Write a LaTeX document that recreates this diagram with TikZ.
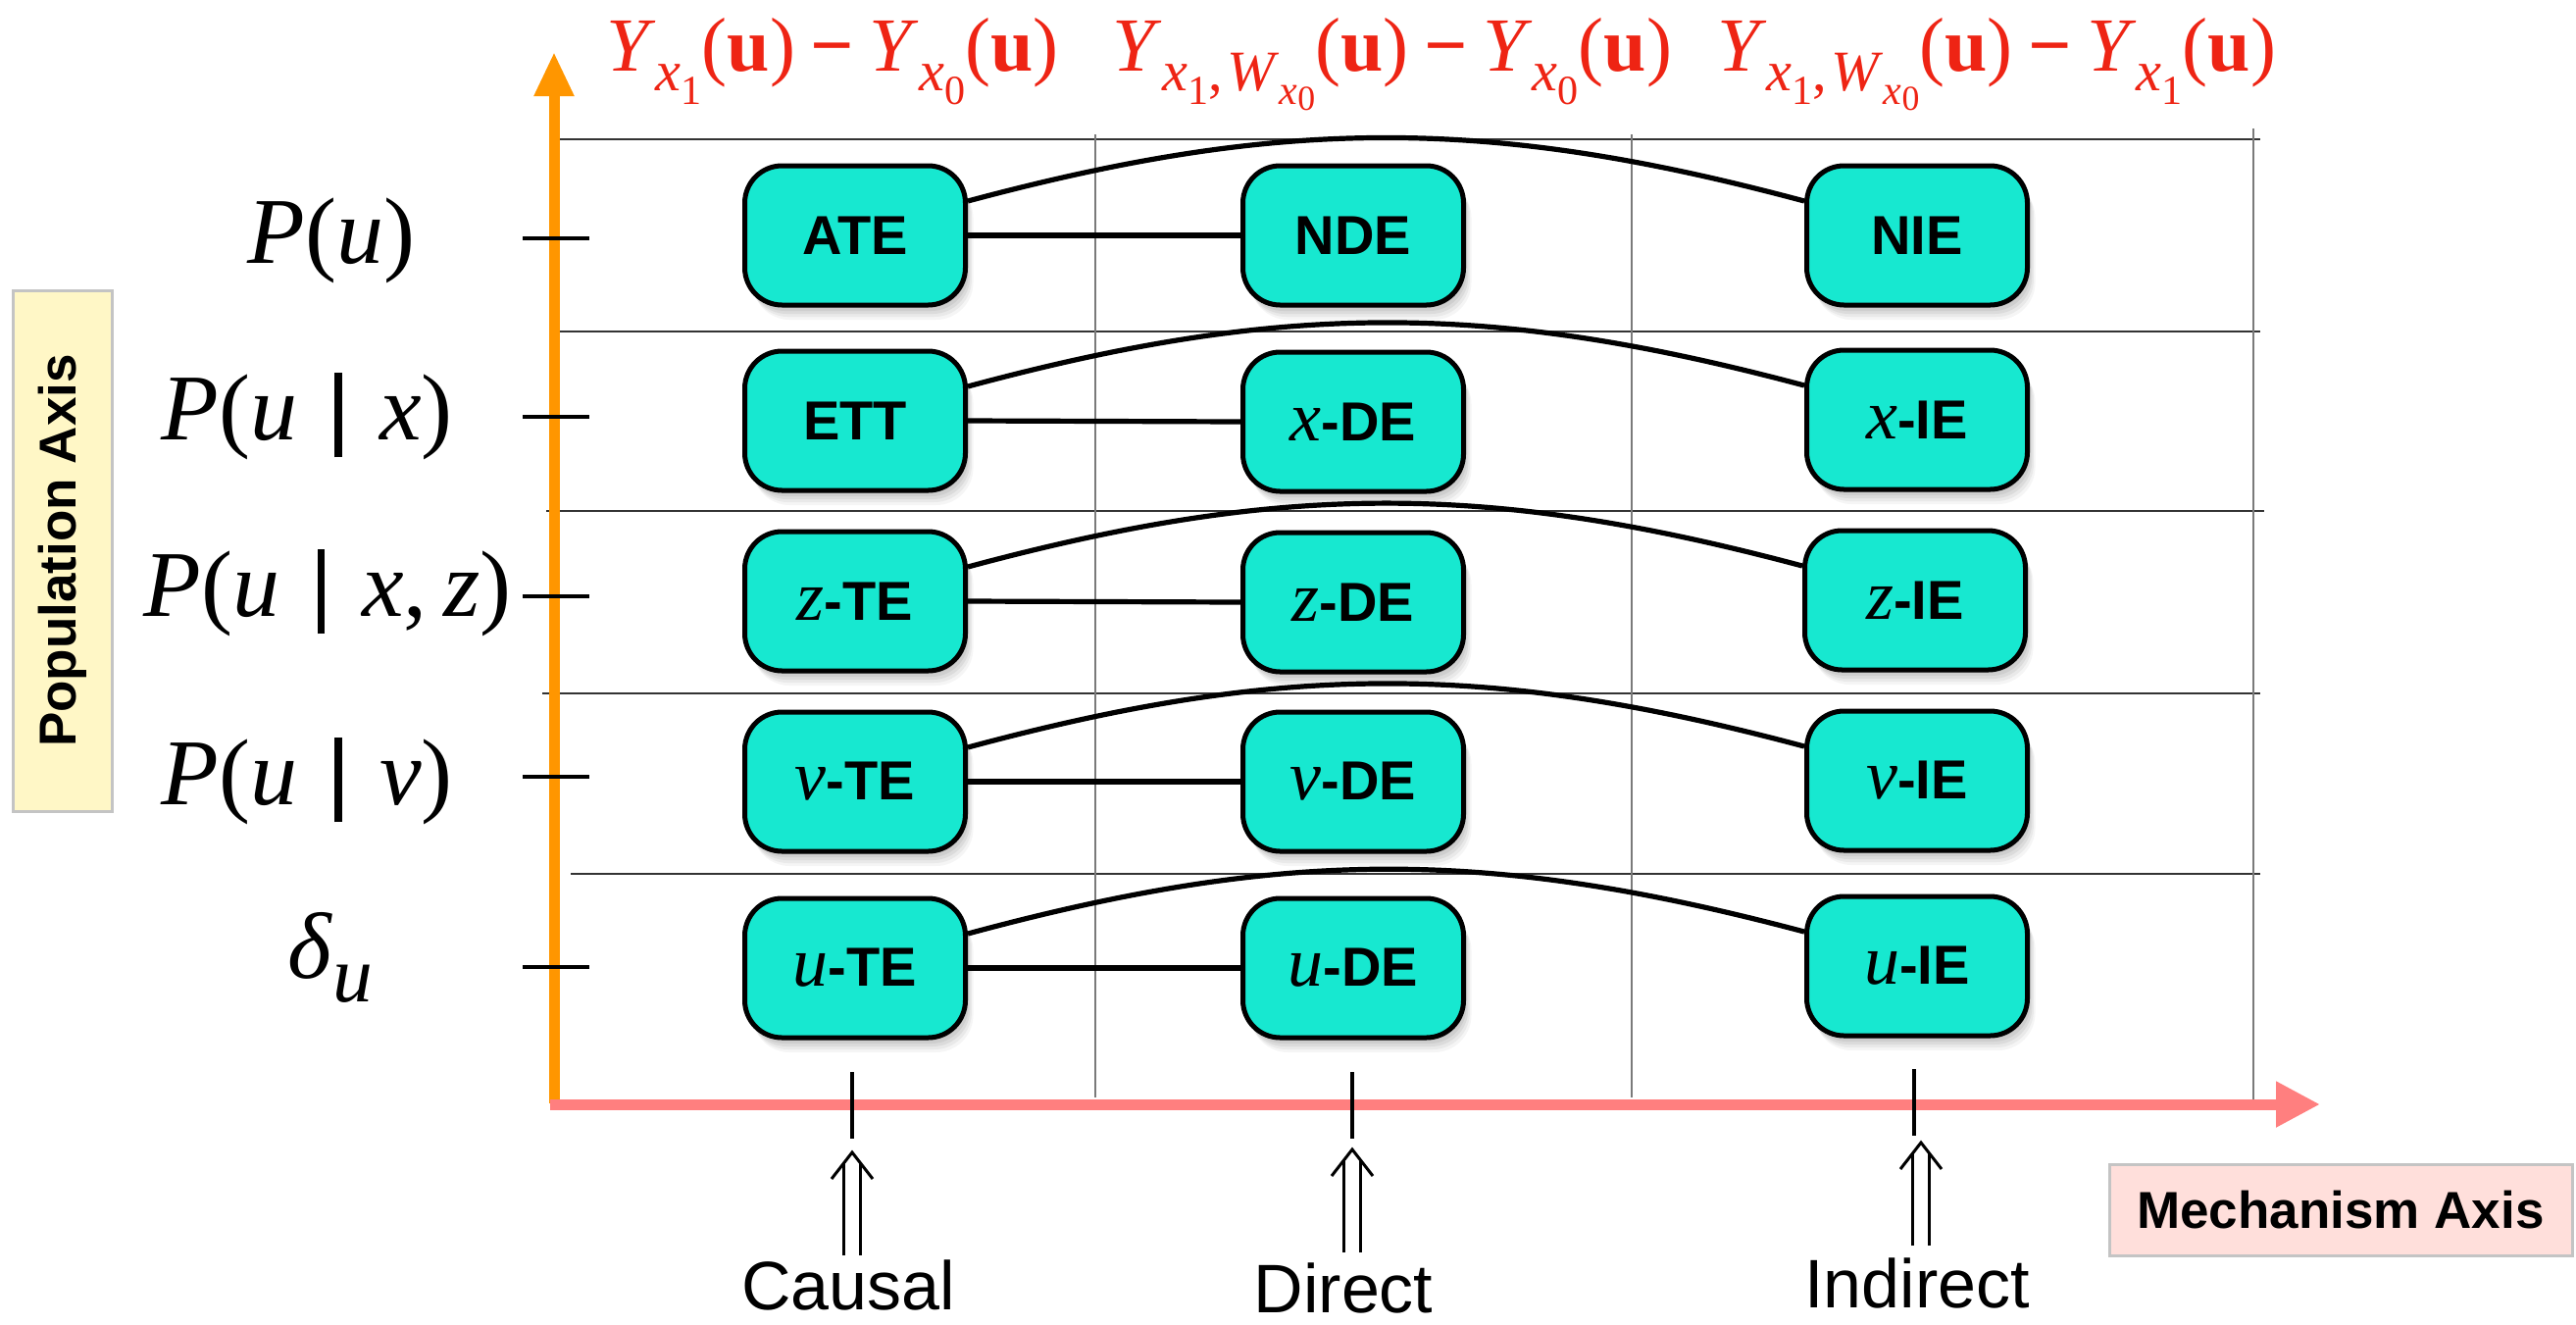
\documentclass[tikz,border=0pt]{standalone}
\usepackage{fontspec}
\setmainfont{Liberation Serif}
\newfontfamily\hv{Liberation Sans}
\usetikzlibrary{arrows.meta}

\definecolor{boxfill}{HTML}{17E8D0}
\definecolor{hdrred}{HTML}{EE2414}
\definecolor{popaxis}{HTML}{FF9600}
\definecolor{mechaxis}{HTML}{FF7F7F}
\definecolor{popfill}{HTML}{FFF7C6}
\definecolor{mechfill}{HTML}{FFDFDB}
\definecolor{boxedge}{HTML}{C4C4C4}
\definecolor{gridv}{HTML}{7A7A7A}
\definecolor{gridh}{HTML}{333333}

% subscripts built from the text fonts
\newcommand\subl[1]{\raisebox{-0.26em}{\scalebox{0.75}{#1}}}
\newcommand\subm[1]{\raisebox{-0.24em}{\scalebox{0.72}{#1}}}
\newcommand\subn[1]{\raisebox{-0.14em}{\scalebox{0.85}{#1}}}
\newcommand\bu{(\textbf{u})}
\newcommand\mn{\hspace{0.2em}\textbf{−}\hspace{0.2em}}
\newcommand\Ysub[1]{\textit{Y}\subl{\textit{x}\subm{#1}}}
\newcommand\Ynest{\textit{Y}\subl{\textit{x}\subm{1},\hspace{0.08em}\textit{W}\subm{\textit{x}\subn{0}}}}
\newcommand\vbar{\hspace{0.4em}\rule[-0.19em]{0.075em}{0.9em}\hspace{0.4em}}
\newcommand\vr[1]{{\rmfamily\mdseries\itshape\fontsize{36}{36}\selectfont #1}}

% double-shafted arrow: name, x, bottom y, tip y
\newcommand\uparr[4]{%
  \coordinate (#1b) at (#2,#3);
  \coordinate (#1t) at (#2,#4);
  \draw[dblstroke] ([xshift=-4.25pt]#1b) -- ([xshift=-4.25pt,yshift=-5.5pt]#1t);
  \draw[dblstroke] ([xshift=4.25pt]#1b) -- ([xshift=4.25pt,yshift=-5.5pt]#1t);
  \draw[dblstroke, line join=miter] ([xshift=-10.5pt,yshift=-13.5pt]#1t) -- (#1t) -- ([xshift=10.5pt,yshift=-13.5pt]#1t);
}

\tikzset{
  shadowed/.style={
    preaction={fill=black,fill opacity=.06,draw=none,transform canvas={xshift=.8pt,yshift=-1.5pt}},
    preaction={fill=black,fill opacity=.06,draw=none,transform canvas={xshift=1.6pt,yshift=-3pt}},
    preaction={fill=black,fill opacity=.06,draw=none,transform canvas={xshift=2.4pt,yshift=-4.5pt}},
    preaction={fill=black,fill opacity=.05,draw=none,transform canvas={xshift=3.2pt,yshift=-6pt}},
    preaction={fill=black,fill opacity=.04,draw=none,transform canvas={xshift=4pt,yshift=-7.5pt}}},
  effbox/.style={draw=black, line width=2.5pt, fill=boxfill, rounded corners=19pt,
    minimum width=112.5pt, minimum height=71pt, inner sep=0pt,
    font=\hv\bfseries\fontsize{28}{28}\selectfont, shadowed},
  link/.style={draw=black, line width=2.6pt},
  hgrid/.style={draw=gridh, line width=.9pt},
  vgrid/.style={draw=gridv, line width=.8pt},
  tickmark/.style={draw=black, line width=2.4pt},
  dblstroke/.style={draw=black, line width=1.5pt},
  header/.style={anchor=base, text=hdrred, font=\rmfamily\fontsize{39}{39}\selectfont, inner sep=0pt},
  poplbl/.style={anchor=base, font=\rmfamily\fontsize{48}{48}\selectfont, inner sep=0pt},
  mechlbl/.style={anchor=base, font=\hv\fontsize{35}{35}\selectfont, inner sep=0pt},
  axisbox/.style={draw=boxedge, line width=1.5pt, inner sep=0pt,
    font=\hv\bfseries\fontsize{26.5}{26.5}\selectfont},
}

\begin{document}
\begin{tikzpicture}[x=0.5pt, y=-0.5pt]
\useasboundingbox (0,0) rectangle (2627,1350);

% grid of the table
\draw[hgrid] (561,142) -- (2305,142);
\draw[hgrid] (561,338) -- (2305,338);
\draw[hgrid] (557,521) -- (2309,521);
\draw[hgrid] (553,707) -- (2305,707);
\draw[hgrid] (582,891) -- (2305,891);
\draw[vgrid] (1117,137) -- (1117,1119);
\draw[vgrid] (1664,137) -- (1664,1119);
\draw[vgrid] (2298,131) -- (2298,1128);

% axes
\coordinate (yfoot) at (565,1125);
\coordinate (ytip) at (565,53);
\coordinate (xfoot) at (561,1126);
\coordinate (xtip) at (2366,1126);
\draw[popaxis, line width=5.5pt, -{Triangle[length=22.5pt,width=19pt]}] (yfoot) -- (ytip);
\draw[mechaxis, line width=5.5pt, -{Triangle[length=22.5pt,width=22pt]}] (xfoot) -- (xtip);

% ticks on the population axis
\foreach \ty in {243,425,608,792,986}
  \draw[tickmark] (533,\ty) -- (601,\ty);
% ticks on the mechanism axis
\draw[tickmark] (869,1093) -- (869,1161);
\draw[tickmark] (1379,1093) -- (1379,1161);
\draw[tickmark] (1952,1090) -- (1952,1158);

% column headings
\node[header] (h1) at (849,72) {\Ysub{1}\bu\mn\Ysub{0}\bu};
\node[header] (h2) at (1420,72) {\Ynest\bu\mn\Ysub{0}\bu};
\node[header] (h3) at (2036,72) {\Ynest\bu\mn\Ysub{1}\bu};

% row labels
\node[poplbl] (p1) at (338,268) {\textit{P}(\textit{u})};
\node[poplbl] (p2) at (313,448) {\textit{P}(\textit{u}\vbar\textit{x})};
\node[poplbl] (p3) at (334,628) {\textit{P}(\textit{u}\vbar\textit{x},\hspace{0.17em}\textit{z})};
\node[poplbl] (p4) at (313,820) {\textit{P}(\textit{u}\vbar\textit{v})};
\node[poplbl] (p5) at (337,997) {\textit{δ}\raisebox{-0.26em}{\scalebox{0.85}{\textit{u}}}};

% effect boxes
\node[effbox] (a1) at (872,240) {ATE};
\node[effbox] (b1) at (1380,240) {NDE};
\node[effbox] (c1) at (1955,240) {NIE};
\node[effbox] (a2) at (872,429) {ETT};
\node[effbox] (b2) at (1380,430) {\vr{x}-DE};
\node[effbox] (c2) at (1955,428) {\vr{x}-IE};
\node[effbox] (a3) at (872,613) {\vr{z}-TE};
\node[effbox] (b3) at (1380,614) {\vr{z}-DE};
\node[effbox] (c3) at (1953,612) {\vr{z}-IE};
\node[effbox] (a4) at (872,797) {\vr{v}-TE};
\node[effbox] (b4) at (1380,797) {\vr{v}-DE};
\node[effbox] (c4) at (1955,796) {\vr{v}-IE};
\node[effbox] (a5) at (872,987) {\vr{u}-TE};
\node[effbox] (b5) at (1380,987) {\vr{u}-DE};
\node[effbox] (c5) at (1955,985) {\vr{u}-IE};

% links between the effects of each row
\foreach \r in {1,...,5}{
  \draw[link] (a\r.east) -- (b\r.west);
  \draw[link] ([yshift=17.5pt]a\r.east) to[bend left=15] ([yshift=17.5pt]c\r.west);
}

% mechanism labels with their arrows
\node[mechlbl] (causal) at (865,1335) {Causal};
\node[mechlbl] (direct) at (1370,1338) {Direct};
\node[mechlbl] (indirect) at (1955,1333) {Indirect};
\uparr{ca}{869}{1280}{1175}
\uparr{di}{1379}{1277}{1172}
\uparr{in}{1959}{1270}{1165}

% axis names
\node[axisbox, fill=popfill, rotate=90, minimum width=265.5pt, minimum height=50.5pt] (popname) at (63.5,561.5) {Population Axis};
\node[axisbox, fill=mechfill, minimum width=236pt, minimum height=46.5pt] (mechname) at (2387,1233.5) {Mechanism Axis};
\end{tikzpicture}
\end{document}
